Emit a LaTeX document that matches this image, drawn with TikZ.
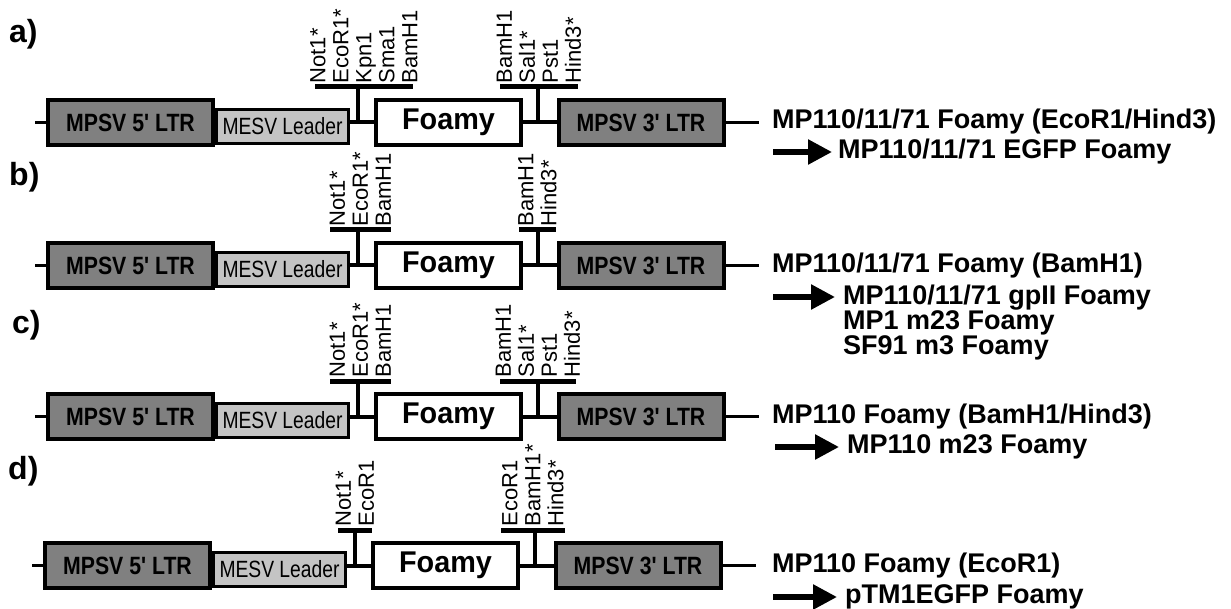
\documentclass[tikz,border=0pt]{standalone}
\usepackage{fontspec}
\setmainfont{Liberation Sans}
\newfontfamily\boxfont[FakeStretch=0.85]{Liberation Sans}
\newfontfamily\leadfont[FakeStretch=0.82]{Liberation Sans}
\newfontfamily\foamyfont[FakeStretch=0.96]{Liberation Sans}
\usetikzlibrary{arrows.meta,calc}
\definecolor{ltrgrey}{RGB}{128,128,128}
\definecolor{leadgrey}{RGB}{196,196,196}
\tikzset{
  ltrbox/.style={draw=black, line width=4pt, fill=ltrgrey, minimum width=165pt, minimum height=45pt, inner sep=0pt,
    font=\boxfont\bfseries\fontsize{25}{25}\selectfont},
  leadbox/.style={draw=black, line width=3pt, fill=leadgrey, minimum width=132pt, minimum height=34pt, inner sep=0pt,
    font=\leadfont\fontsize{23.5}{23.5}\selectfont},
  foamybox/.style={draw=black, line width=4pt, fill=white, minimum width=145pt, minimum height=45pt, inner sep=0pt,
    font=\foamyfont\bfseries\fontsize{30}{30}\selectfont},
  sitelabel/.style={rotate=90, align=left, inner xsep=1pt, inner ysep=0pt, anchor=west,
    font=\fontsize{22}{23}\selectfont},
  sitebar/.style={line width=5pt},
  mainline/.style={line width=4pt},
  thinline/.style={line width=2.2pt},
  stubline/.style={line width=3pt},
  rowlabel/.style={font=\bfseries\fontsize{32}{32}\selectfont, inner sep=0pt, anchor=base west},
  vectext/.style={font=\bfseries\fontsize{27}{27}\selectfont, inner sep=0pt, anchor=west},
  bigarrow/.style={line width=5.5pt, -{Triangle[length=24pt,width=24pt]}},
}
\newcommand\cassette[9]{%
  \node[leadbox] (#1ld) at (282.5+#3, #2+3.5) {MESV Leader};
  \node[ltrbox] (#1l5) at (130.5+#3, #2-0.5) {MPSV 5' LTR};
  \node[foamybox] (#1f) at (448.5+#3, #2-0.5) {Foamy};
  \node[ltrbox] (#1l3) at (641+#3, #2-0.5) {MPSV 3' LTR};
  \coordinate (#1s) at (35+#3, #2-0.5);
  \coordinate (#1e) at (759+#3, #2-0.5);
  \draw[stubline] (#1s) -- (#1l5.west);
  \draw[thinline] (#1l3.east) -- (#1e);
  \draw[mainline] (#1f.west -| #1ld.east) -- (#1f.west);
  \draw[mainline] (#1f.east) -- (#1l3.west);
  \coordinate (#1bl1) at (#4, #2-36);
  \coordinate (#1bl2) at (#5, #2-36);
  \coordinate (#1vl) at (358+#3, #2-36);
  \draw[sitebar] (#1bl1) -- (#1bl2);
  \draw[mainline] (#1vl) -- (#1vl |- #1f.west);
  \node[sitelabel] (#1sl) at ({(#4+#5)/2}, #2-38.5) {#6};
  \coordinate (#1br1) at (#7, #2-36);
  \coordinate (#1br2) at (#8, #2-36);
  \coordinate (#1vr) at (538+#3, #2-36);
  \draw[sitebar] (#1br1) -- (#1br2);
  \draw[mainline] (#1vr) -- (#1vr |- #1f.east);
  \node[sitelabel] (#1sr) at ({(#7+#8)/2}, #2-38.5) {#9};
}
\begin{document}
\begin{tikzpicture}[x=1pt,y=-1pt]
\useasboundingbox (0,0) rectangle (1231,609);
\fill[white] (0,0) rectangle (1231,609);

\node[rowlabel] (la) at (9,43) {a)};
\node[rowlabel] (lb) at (9,186) {b)};
\node[rowlabel] (lc) at (12,334) {c)};
\node[rowlabel] (ld) at (8,479) {d)};

\cassette{a}{123}{0}{315}{413}{Not1*\\EcoR1*\\Kpn1\\Sma1\\BamH1}{500}{578}{BamH1\\Sal1*\\Pst1\\Hind3*}
\cassette{b}{266}{0}{330}{391}{Not1*\\EcoR1*\\BamH1}{519}{556}{BamH1\\Hind3*}
\cassette{c}{417}{0}{330}{391}{Not1*\\EcoR1*\\BamH1}{500}{576}{BamH1\\Sal1*\\Pst1\\Hind3*}
\cassette{d}{566}{-3}{338}{372}{Not1*\\EcoR1}{501}{565}{EcoR1\\BamH1*\\Hind3*}

% right-hand texts
\node[vectext] (ta1) at (772,122) {MP110/11/71 Foamy (EcoR1/Hind3)};
\node[vectext] (ta2) at (838,152) {MP110/11/71 EGFP Foamy};
\coordinate (aa) at (773,152);
\draw[bigarrow] (aa) -- ([xshift=-6pt]ta2.west);

\node[vectext] (tb1) at (772,266) {MP110/11/71 Foamy (BamH1)};
\node[vectext, anchor=north west, align=left, font=\bfseries\fontsize{27}{24.5}\selectfont] (tb2) at (843,284.5)
  {MP110/11/71 gpII Foamy\\MP1 m23 Foamy\\SF91 m3 Foamy};
\coordinate (ab) at (773,297);
\draw[bigarrow, shorten >=8pt] (ab) -- (ab -| tb2.west);

\node[vectext] (tc1) at (772,417) {MP110 Foamy (BamH1/Hind3)};
\node[vectext] (tc2) at (847,447) {MP110 m23 Foamy};
\coordinate (ac) at (775,447);
\draw[bigarrow] (ac) -- ([xshift=-8pt]tc2.west);

\node[vectext] (td1) at (772,566) {MP110 Foamy (EcoR1)};
\node[vectext] (td2) at (845,597) {pTM1EGFP Foamy};
\coordinate (ad) at (773,597);
\draw[bigarrow] (ad) -- ([xshift=-8pt]td2.west);
\end{tikzpicture}
\end{document}
